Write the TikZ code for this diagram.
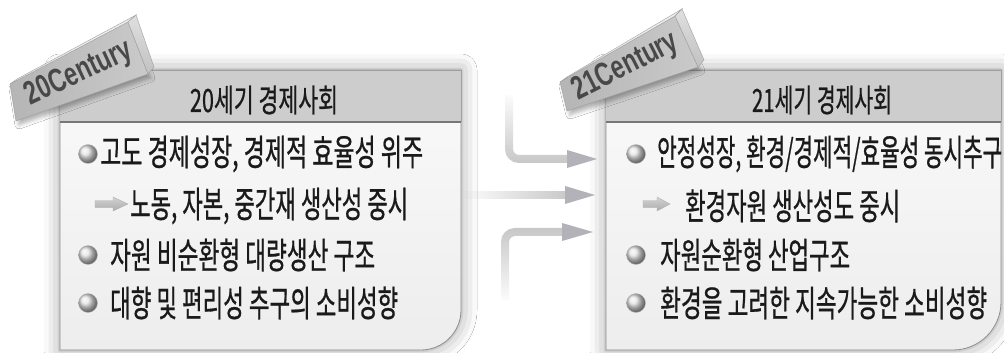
\documentclass[tikz,border=0pt]{standalone}
\usepackage{fontspec}
\usepackage{graphicx}
\usetikzlibrary{shadows.blur,fadings,calc}
\newfontfamily\kfont[FakeBold=0.8]{Noto Sans CJK KR}
\newfontfamily\tabfont{Liberation Sans}
\definecolor{txt}{HTML}{1A1A1A}
\definecolor{hdrfill}{HTML}{CDCDCD}
\definecolor{hdrline}{HTML}{777777}
\definecolor{bodytop}{HTML}{FAFAFA}
\definecolor{bodybot}{HTML}{EDEDED}
\definecolor{bord}{HTML}{8C8C8C}
\definecolor{shaftc}{HTML}{C8C8C8}
\definecolor{headc}{HTML}{B2B2B8}
\definecolor{tabtxt}{HTML}{484848}
\newcommand{\ktxt}[3]{\resizebox{#1pt}{\height}{\kfont\fontsize{#2}{#2}\selectfont #3}}
\newcommand{\ttxt}[2]{\resizebox{#1pt}{\height}{\tabfont\bfseries\fontsize{33}{33}\selectfont #2}}
\tikzset{
  itm/.style={anchor=west, inner sep=0pt, text=txt},
  hdrtxt/.style={anchor=center, inner sep=0pt, text=txt},
  ballbul/.style={ball color=gray!22, draw=gray!55, line width=0.4pt},
  abul/.style={top color=gray!35, bottom color=gray!65, draw=gray!60, line width=0.4pt},
  shaftline/.style={draw=shaftc, line width=8pt},
  headtri/.style={fill=headc},
  panel/.style={top color=bodytop, bottom color=bodybot, draw=bord, line width=0.8pt,
    blur shadow={shadow xshift=0pt, shadow yshift=0pt, shadow blur radius=16pt, shadow opacity=38}},
  hdr/.style={fill=hdrfill},
  hdredge/.style={draw=gray!75, line width=0.8pt},
  hdrbottom/.style={draw=hdrline, line width=2pt},
  tabfront/.style={left color=gray!58, right color=gray!42, draw=gray!75, line width=0.4pt,
    blur shadow={shadow xshift=3pt, shadow yshift=-4pt, shadow blur radius=4pt, shadow opacity=30}},
  tabend/.style={top color=gray!25, bottom color=gray!48, draw=gray!75, line width=0.4pt},
  tabtop/.style={fill=gray!15, draw=gray!75, line width=0.4pt},
  tabtext/.style={text=tabtxt, inner sep=0pt},
}
\begin{document}
\begin{tikzpicture}[x=1pt,y=1pt]
\useasboundingbox (0,0) rectangle (1004,-353);
\fill[white] (0,0) rectangle (1004,-353);

% ---------- left panel ----------
\coordinate (Lnw) at (60,-70);
\coordinate (Lne) at (461,-70);
\coordinate (Lhs) at (461,-122);
\coordinate (Lhw) at (60,-122);
\path[panel] (Lnw) -- (Lne) -- (461,-310) arc[start angle=0,end angle=-90,radius=40] -- (60,-350) -- cycle;
\fill[hdr] (Lnw) rectangle (Lhs);
\draw[hdredge] (Lnw) -- (Lne) -- (Lhs);
\draw[hdrbottom] (Lhw) -- (Lhs);

% ---------- right panel ----------
\coordinate (Rnw) at (606,-70);
\coordinate (Rne) at (1001,-70);
\coordinate (Rhs) at (1001,-122);
\coordinate (Rhw) at (606,-122);
\path[panel] (Rnw) -- (Rne) -- (1001,-302) arc[start angle=0,end angle=-90,radius=48] -- (606,-350) -- cycle;
\fill[hdr] (Rnw) rectangle (Rhs);
\draw[hdredge] (Rnw) -- (Rne) -- (Rhs);
\draw[hdrbottom] (Rhw) -- (Rhs);

% ---------- tabs ----------
\path[tabfront] (10,-84) -- (128,-22) -- (148,-74) -- (16,-121) -- cycle;
\path[tabtop] (10,-84) -- (17,-79) -- (136,-15) -- (128,-22) -- cycle;
\path[tabend] (128,-22) -- (136,-15) -- (154,-67) -- (148,-74) -- cycle;
\node[tabtext, rotate=25] (t20) at (79,-74) {\ttxt{114}{20Century}};

\path[tabfront] (560,-82) -- (675,-16) -- (698,-67) -- (567,-111) -- cycle;
\path[tabtop] (560,-82) -- (567,-77) -- (682,-9) -- (675,-16) -- cycle;
\path[tabend] (675,-16) -- (682,-9) -- (704,-60) -- (698,-67) -- cycle;
\node[tabtext, rotate=27] (t21) at (626,-67) {\ttxt{114}{21Century}};

% ---------- headers ----------
\node[hdrtxt] (h20) at (264,-100) {\ktxt{148}{32}{20세기 경제사회}};
\node[hdrtxt] (h21) at (822,-100) {\ktxt{140}{32}{21세기 경제사회}};

% ---------- left items ----------
\shade[ballbul] (88,-154) circle (9.5);
\node[itm] (l1) at (100,-154) {\ktxt{323}{36}{고도 경제성장, 경제적 효율성 위주}};
\path[abul] (95,-200.5) -- (113,-200.5) -- (113,-197) -- (128,-204) -- (113,-211) -- (113,-207.5) -- (95,-207.5) -- cycle;
\node[itm] (l2) at (130,-206) {\ktxt{278}{36}{노동, 자본, 중간재 생산성 중시}};
\shade[ballbul] (88,-255) circle (9.5);
\node[itm] (l3) at (110,-255) {\ktxt{265}{36}{자원 비순환형 대량생산 구조}};
\shade[ballbul] (88,-303) circle (9.5);
\node[itm] (l4) at (110,-303) {\ktxt{288}{36}{대향 및 편리성 추구의 소비성향}};

% ---------- right items ----------
\shade[ballbul] (636,-154) circle (9.5);
\node[itm] (r1) at (657,-154) {\ktxt{345}{36}{안정성장, 환경/경제적/효율성 동시추구}};
\path[abul] (643,-200.5) -- (657,-200.5) -- (657,-197) -- (670,-204) -- (657,-211) -- (657,-207.5) -- (643,-207.5) -- cycle;
\node[itm] (r2) at (685,-206) {\ktxt{215}{36}{환경자원 생산성도 중시}};
\shade[ballbul] (636,-255) circle (9.5);
\node[itm] (r3) at (660,-255) {\ktxt{190}{36}{자원순환형 산업구조}};
\shade[ballbul] (636,-303) circle (9.5);
\node[itm] (r4) at (660,-303) {\ktxt{327}{36}{환경을 고려한 지속가능한 소비성향}};

% ---------- arrows ----------
\coordinate (a1t) at (509,-95);
\coordinate (a1h) at (567,-159);
\coordinate (a1p) at (597,-159);
\draw[shaftline, rounded corners=10pt, path fading=north] (a1t) |- (a1h);
\fill[headtri] (a1p) -- ($(a1h)+(0,9)$) -- ($(a1h)+(0,-9)$) -- cycle;

\coordinate (a2t) at (462,-195);
\coordinate (a2h) at (565,-195);
\coordinate (a2p) at (595,-195);
\draw[shaftline, path fading=west] (a2t) -- (a2h);
\fill[headtri] (a2p) -- ($(a2h)+(0,9)$) -- ($(a2h)+(0,-9)$) -- cycle;

\coordinate (a3t) at (505,-300);
\coordinate (a3h) at (562,-232);
\coordinate (a3p) at (593,-232);
\draw[shaftline, rounded corners=10pt, path fading=south] (a3t) |- (a3h);
\fill[headtri] (a3p) -- ($(a3h)+(0,9)$) -- ($(a3h)+(0,-9)$) -- cycle;
\end{tikzpicture}
\end{document}
